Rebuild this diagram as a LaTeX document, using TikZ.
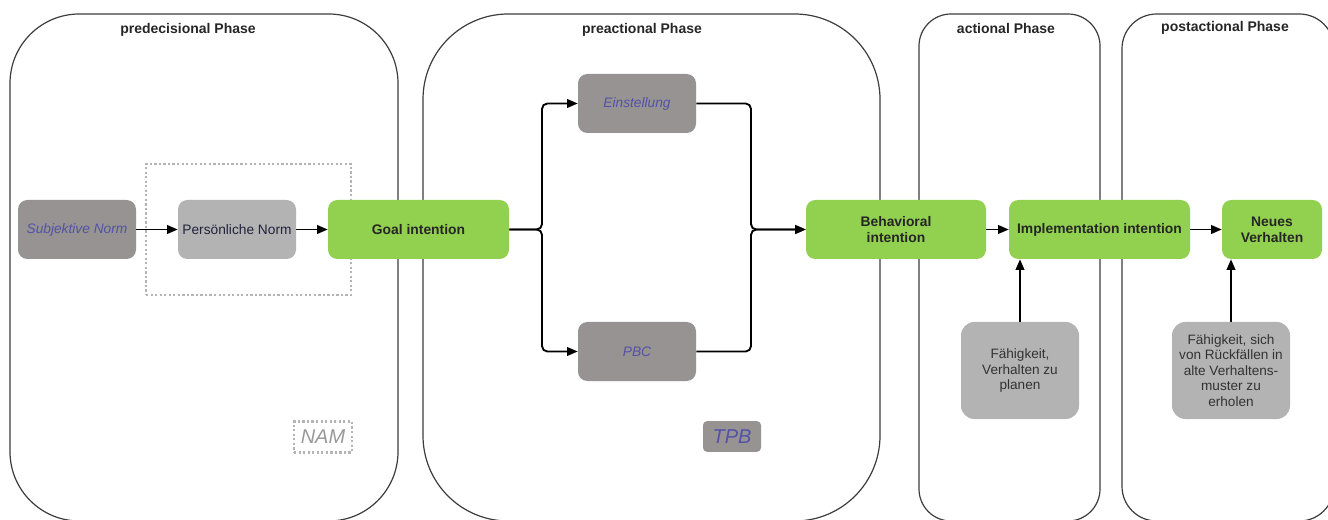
\documentclass[tikz,border=0pt]{standalone}
\usepackage{fontspec}
\setmainfont{Liberation Sans}
\usetikzlibrary{arrows.meta}
\definecolor{gdark}{HTML}{979392}
\definecolor{glight}{HTML}{B3B3B3}
\definecolor{ggreen}{HTML}{92D050}
\definecolor{txtblue}{HTML}{5252A8}
\definecolor{txtnavy}{HTML}{22223C}
\definecolor{dotgray}{HTML}{B4B4B4}
\definecolor{framegray}{HTML}{3C3C3C}
\definecolor{txtgray}{HTML}{333333}

\begin{document}
\begin{tikzpicture}[x=0.75pt,y=-0.75pt,
  phase/.style={draw=framegray, line width=0.9pt, inner sep=0pt},
  phasetitle/.style={font=\fontsize{10.5}{12}\selectfont\bfseries, text=black!85, inner sep=0pt},
  box/.style={rounded corners=7pt, minimum width=88.5pt, minimum height=44.25pt,
    inner sep=1pt, align=center, font=\fontsize{10.3}{12}\selectfont},
  darkbox/.style={box, fill=gdark, text=txtblue, font=\fontsize{10.3}{12}\selectfont\itshape},
  lightbox/.style={box, fill=glight},
  greenbox/.style={box, fill=ggreen, text=black!85, minimum width=135.75pt,
    font=\fontsize{10.4}{12.2}\selectfont\bfseries},
  skillbox/.style={box, fill=glight, text=txtgray, minimum height=72.75pt, rounded corners=10pt,
    font=\fontsize{10.2}{11.7}\selectfont},
  dotframe/.style={draw=dotgray, line width=1.9pt, dash pattern=on 1.7pt off 1.7pt},
  tag/.style={minimum width=43.5pt, minimum height=23pt, inner sep=0pt,
    font=\fontsize{15}{17}\selectfont\itshape},
  flow/.style={line width=1.4pt, draw=black, -{Triangle[length=8pt,width=6.5pt]}},
]
\useasboundingbox (0,0) rectangle (1328,520);

% phase containers
\node[phase, rounded corners=52pt, minimum width=291pt, minimum height=380.25pt] (predec) at (204,267.5) {};
\node[phase, rounded corners=64pt, minimum width=342.75pt, minimum height=380.25pt] (preact) at (651.5,267.5) {};
\node[phase, rounded corners=24pt, minimum width=135.75pt, minimum height=380.25pt] (act) at (1009.5,267.5) {};
\node[phase, rounded corners=26pt, minimum width=159pt, minimum height=380.25pt] (postact) at (1228,267.5) {};

\node[phasetitle] (t1) at (188,30) {predecisional Phase};
\node[phasetitle] (t2) at (642,30) {preactional Phase};
\node[phasetitle] (t3) at (1006,28) {actional Phase};
\node[phasetitle] (t4) at (1225,28) {postactional Phase};

% NAM grouping frame
\node[dotframe, minimum width=153.75pt, minimum height=98.25pt, inner sep=0pt] (namgroup) at (248.5,229.5) {};
\node[dotframe, tag, text=black!40] (nam) at (323,437) {NAM};

% nodes
\node[darkbox] (subj) at (77,229.5) {Subjektive Norm};
\node[lightbox, text=txtnavy] (pers) at (237,229.5) {Persönliche Norm};
\node[greenbox] (goal) at (418.5,229.5) {Goal intention};

\node[darkbox] (einst) at (637,103.5) {Einstellung};
\node[darkbox] (pbc) at (637,351.5) {PBC};
\node[tag, fill=gdark, text=txtblue, rounded corners=3pt] (tpb) at (732,436.5) {TPB};

\node[greenbox, minimum width=135pt] (beh) at (896,229.5) {Behavioral\\intention};
\node[greenbox] (impl) at (1099.5,229.5) {Implementation intention};
\node[greenbox, minimum width=75pt] (neu) at (1272,229.5) {Neues\\Verhalten};

\node[skillbox] (fa1) at (1020,370.5) {Fähigkeit,\\Verhalten zu\\planen};
\node[skillbox] (fa2) at (1231,370.5) {Fähigkeit, sich\\von Rückfällen in\\alte Verhaltens-\\muster zu\\erholen};

% connectors
\coordinate (split) at (542,229.5);
\coordinate (merge) at (751,229.5);

\draw[flow] (subj) -- (pers);
\draw[flow] (pers) -- (goal);
\draw[flow, rounded corners=4pt] (goal.east) -- (split) |- (einst.west);
\draw[flow, rounded corners=4pt] (goal.east) -- (split) |- (pbc.west);
\draw[flow, rounded corners=4pt] (einst.east) -| (merge) -- (beh.west);
\draw[flow, rounded corners=4pt] (pbc.east) -| (merge) -- (beh.west);
\draw[flow] (beh) -- (impl);
\draw[flow] (impl) -- (neu);
\draw[flow] (fa1.north) -- (fa1.north |- impl.south);
\draw[flow] (fa2.north) -- (fa2.north |- neu.south);
\end{tikzpicture}
\end{document}
